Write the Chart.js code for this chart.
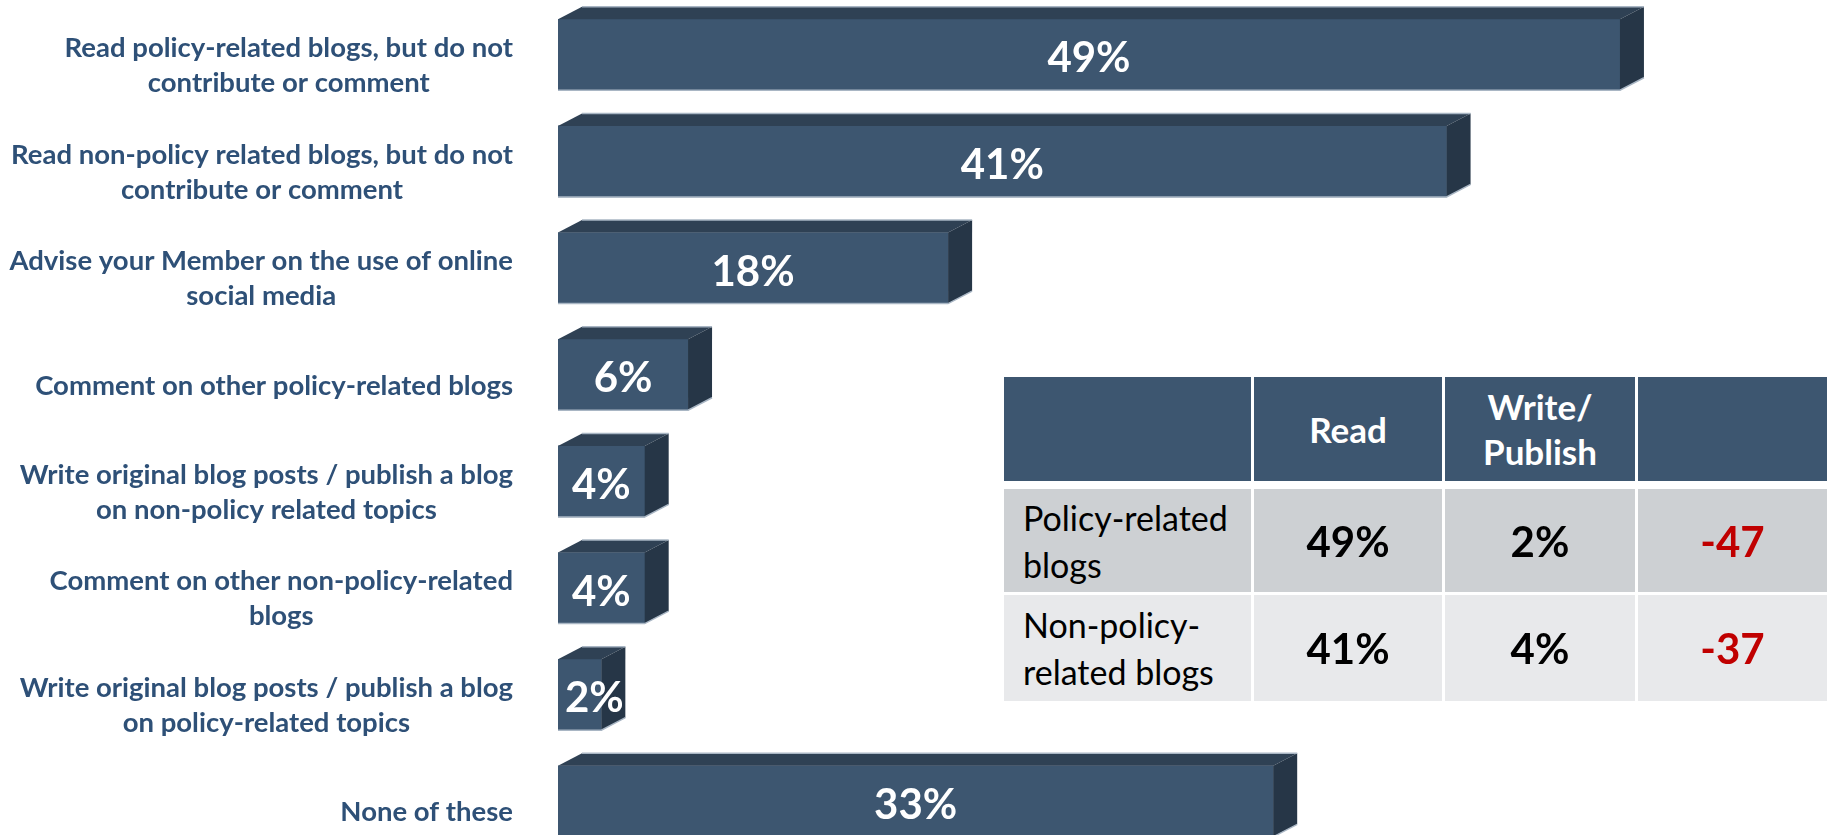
<!DOCTYPE html>
<html>
<head>
<meta charset="utf-8">
<title>Blog activity</title>
<script src="https://cdn.jsdelivr.net/npm/chart.js@4.4.1/dist/chart.umd.min.js"></script>
<style>
  html, body { margin: 0; padding: 0; background: #ffffff; overflow: hidden; }
  #wrap { position: relative; width: 1830px; height: 835px; overflow: hidden; }
  #chart { position: absolute; left: 0; top: 0; }
  .cell {
    position: absolute; box-sizing: border-box; display: flex; align-items: center;
    font-family: Lato, "Open Sans", sans-serif; white-space: pre-line;
  }
</style>
</head>
<body>
<div id="wrap">
  <canvas id="chart" width="1830" height="870"></canvas>
  <div id="table"></div>
</div>
<script>
// ---- data ----
const categories = [
  ['Read policy-related blogs, but do not', 'contribute or comment'],
  ['Read non-policy related blogs, but do not', 'contribute or comment'],
  ['Advise your Member on the use of online', 'social media'],
  ['Comment on other policy-related blogs'],
  ['Write original blog posts / publish a blog', 'on non-policy related topics'],
  ['Comment on other non-policy-related', 'blogs'],
  ['Write original blog posts / publish a blog', 'on policy-related topics'],
  ['None of these']
];
const shares = [49, 41, 18, 6, 4, 4, 2, 33];

const tableHeaders = ['', 'Read', 'Write/\nPublish', ''];
const tableRowLabels = ['Policy-related\nblogs', 'Non-policy-\nrelated blogs'];
const readShares = [49, 41];
const writeShares = [2, 4];
const gaps = [-47, -37];

const axisMax = 58;

// ---- styling ----
const FRONT = '#3d5670';
const TOP = '#2f4154';
const SIDE = '#263647';
const EDGE = '#a9b6c4';
const LABEL = '#2e5077';
const DX = 24, DY = 12.5;

// extruded top and side faces for each bar
const boxFaces = {
  id: 'boxFaces',
  afterDatasetsDraw(chart) {
    const ctx = chart.ctx;
    const meta = chart.getDatasetMeta(0);
    ctx.save();
    meta.data.forEach((bar) => {
      const p = bar.getProps(['x', 'y', 'base', 'height'], true);
      const l = p.base, r = p.x, t = p.y - p.height / 2, b = p.y + p.height / 2;
      ctx.fillStyle = TOP;
      ctx.beginPath();
      ctx.moveTo(l, t); ctx.lineTo(l + DX, t - DY); ctx.lineTo(r + DX, t - DY); ctx.lineTo(r, t);
      ctx.closePath(); ctx.fill();
      ctx.fillStyle = SIDE;
      ctx.beginPath();
      ctx.moveTo(r, t); ctx.lineTo(r + DX, t - DY); ctx.lineTo(r + DX, b - DY); ctx.lineTo(r, b);
      ctx.closePath(); ctx.fill();
      ctx.strokeStyle = EDGE; ctx.lineWidth = 1.5;
      ctx.beginPath();
      ctx.moveTo(l, b); ctx.lineTo(r, b); ctx.lineTo(r + DX, b - DY);
      ctx.moveTo(l + DX, t - DY); ctx.lineTo(r + DX, t - DY);
      ctx.stroke();
    });
    ctx.restore();
  }
};

// category captions (centred lines, right-aligned block) and value labels
const captions = {
  id: 'captions',
  afterDraw(chart) {
    const ctx = chart.ctx;
    const yScale = chart.scales.y;
    const meta = chart.getDatasetMeta(0);
    ctx.save();
    ctx.textBaseline = 'middle';
    ctx.textAlign = 'center';
    ctx.font = 'bold 27.5px Lato, "Open Sans", sans-serif';
    ctx.fillStyle = LABEL;
    const rightEdge = 513, lineGap = 35, shift = 11;
    categories.forEach((lines, i) => {
      const cy = yScale.getPixelForValue(i) + shift;
      const widest = Math.max(...lines.map(s => ctx.measureText(s).width));
      const cx = rightEdge - widest / 2;
      lines.forEach((s, k) => {
        ctx.fillText(s, cx, cy + (k - (lines.length - 1) / 2) * lineGap);
      });
    });
    ctx.font = 'bold 42px Lato, "Open Sans", sans-serif';
    ctx.fillStyle = '#ffffff';
    meta.data.forEach((bar, i) => {
      const p = bar.getProps(['x', 'y', 'base'], true);
      const txt = shares[i] + '%';
      const w = ctx.measureText(txt).width;
      const cx = Math.max((p.base + p.x) / 2, p.base + w / 2 + 7);
      ctx.fillText(txt, cx, p.y + 4);
    });
    ctx.restore();
  }
};

new Chart(document.getElementById('chart'), {
  type: 'bar',
  data: {
    labels: categories,
    datasets: [{
      data: shares,
      backgroundColor: FRONT,
      borderWidth: 0,
      barThickness: 71
    }]
  },
  options: {
    indexAxis: 'y',
    responsive: false,
    animation: false,
    devicePixelRatio: 1,
    layout: { padding: { left: 558, right: 15, top: 1.4, bottom: 15.3 } },
    plugins: { legend: { display: false }, tooltip: { enabled: false } },
    scales: {
      x: { type: 'linear', min: 0, max: axisMax, display: false },
      y: { type: 'category', display: false }
    }
  },
  plugins: [boxFaces, captions]
});

// ---- comparison table ----
const colLeft = [1004, 1254, 1445, 1638];
const colWidth = [247, 188, 190, 189];
const rowTop = [377, 489, 595];
const rowHeight = [104, 103, 106];
const rowFill = ['#3d5670', '#cdd0d3', '#e8e9eb'];
const table = document.getElementById('table');

function addCell(r, c, text, style) {
  const d = document.createElement('div');
  d.className = 'cell';
  d.style.left = colLeft[c] + 'px';
  d.style.top = rowTop[r] + 'px';
  d.style.width = colWidth[c] + 'px';
  d.style.height = rowHeight[r] + 'px';
  d.style.background = rowFill[r];
  Object.assign(d.style, style || {});
  d.textContent = text;
  table.appendChild(d);
}

tableHeaders.forEach((h, c) => addCell(0, c, h, {
  color: '#ffffff', fontWeight: '700', fontSize: '35px', lineHeight: '45px',
  justifyContent: 'center', textAlign: 'center'
}));
tableRowLabels.forEach((lab, i) => {
  const r = i + 1;
  addCell(r, 0, lab, { color: '#000000', fontWeight: '400', fontSize: '34px', lineHeight: '47px', paddingLeft: '19px' });
  const num = { fontWeight: '700', fontSize: '42px', justifyContent: 'center', textAlign: 'center' };
  addCell(r, 1, readShares[i] + '%', Object.assign({ color: '#000000' }, num));
  addCell(r, 2, writeShares[i] + '%', Object.assign({ color: '#000000' }, num));
  addCell(r, 3, String(gaps[i]), Object.assign({ color: '#c00000' }, num));
});
</script>
</body>
</html>
